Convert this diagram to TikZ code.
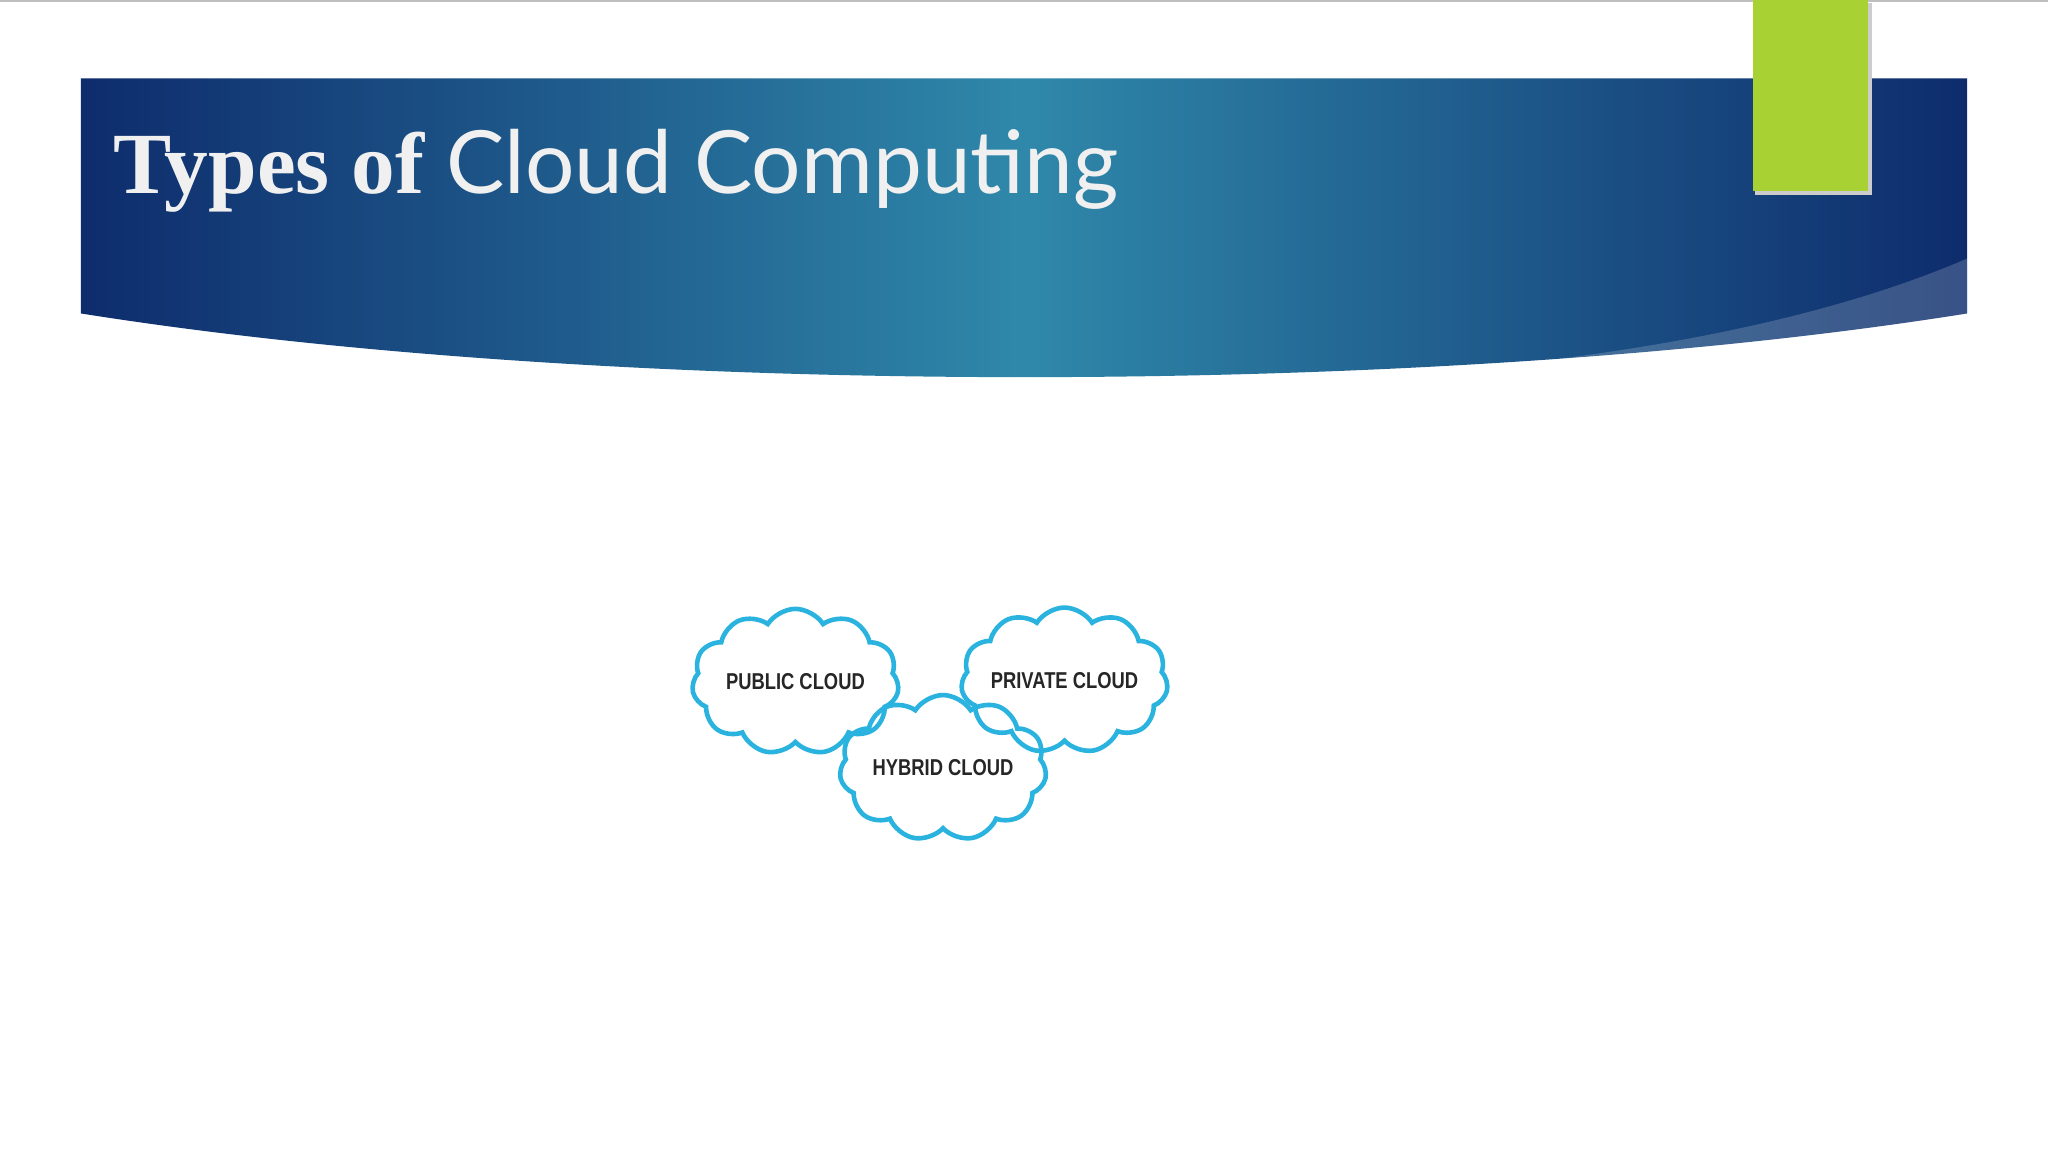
\documentclass[tikz,border=0pt]{standalone}
\usepackage{fontspec}
\setmainfont{Liberation Serif}
\newfontfamily\titlesans{Lato}
\newfontfamily\cloudfont{Liberation Sans}
\usetikzlibrary{shapes.symbols}
\definecolor{hdark}{HTML}{0E2C6C}
\definecolor{hmid}{HTML}{2F88AA}
\definecolor{lgreen}{HTML}{A8D233}
\definecolor{ccyan}{HTML}{2BB3DF}
\tikzset{
  cloudbox/.style={cloud, cloud puffs=11, cloud puff arc=115, aspect=1.4, draw=ccyan, line width=1pt, minimum width=4.4cm*0.36, minimum height=3.1cm*0.36, inner sep=0pt},
  cloudtext/.style={font=\cloudfont\bfseries\fontsize{5pt}{6pt}\selectfont, text=black!85, xscale=0.8}
}
\begin{document}
\begin{tikzpicture}[x=0.01cm,y=-0.01cm]
\useasboundingbox (0,0) rectangle (1568,882);
\fill[white] (0,0) rectangle (1568,882);
\draw[black!25, line width=0.4pt] (0,1) -- (1568,1);
\shade[left color=hdark, right color=hdark, middle color=hmid]
  (62,60) -- (1506,60) -- (1506,240) .. controls (1100,305) and (470,305) .. (62,240) -- cycle;
\fill[white, opacity=0.18] (1130,282) .. controls (1300,265) and (1420,235) .. (1506,198) -- (1506,240) .. controls (1380,262) and (1250,276) .. (1130,282) -- cycle;
\fill[black!20] (1344,2) rectangle (1433,149);
\fill[lgreen] (1342,0) rectangle (1430,146);
\node[anchor=base west, text=white!94!black, inner sep=0pt] (title) at (86,148)
  {\fontsize{19pt}{22pt}\selectfont\bfseries Types of \titlesans\mdseries Cloud Computing};
\node[cloudbox] (pub) at (609,522) {};
\node[cloudbox] (priv) at (815,521) {};
\node[cloudbox] (hyb) at (722,588) {};
\node[cloudtext] (tpub) at (pub) {PUBLIC CLOUD};
\node[cloudtext] (tpriv) at (priv) {PRIVATE CLOUD};
\node[cloudtext] (thyb) at (hyb) {HYBRID CLOUD};
\end{tikzpicture}
\end{document}
